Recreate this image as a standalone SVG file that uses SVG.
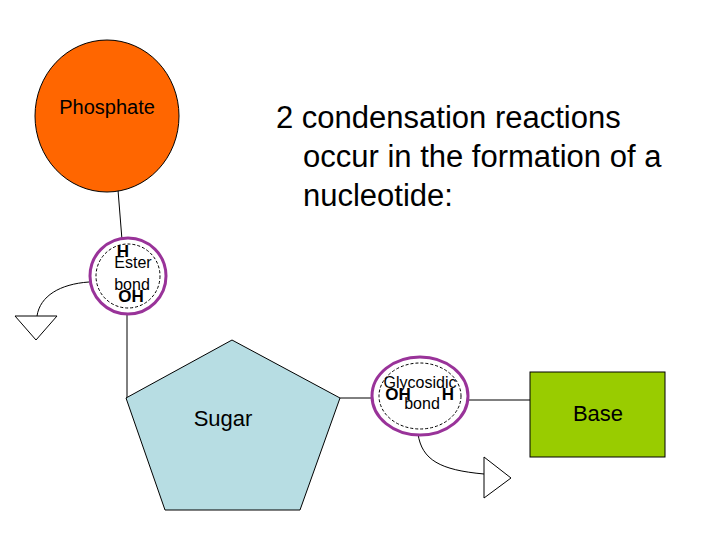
<svg xmlns="http://www.w3.org/2000/svg" width="720" height="540" viewBox="0 0 720 540">
<style>
.t{font-family:"Liberation Sans",Arial,sans-serif;fill:#000}
.ln{stroke:#000;stroke-width:1;fill:none}
.bond{fill:#fff;stroke:#993399;stroke-width:3}
.dash{fill:none;stroke:#000;stroke-width:1;stroke-dasharray:3,2}
.tri{fill:#fff;stroke:#000;stroke-width:1}
</style>
<rect width="720" height="540" fill="#fff"/>
<g id="connectors">
<line class="ln" x1="118" y1="190" x2="122" y2="240"/>
<polyline class="ln" points="127,313 127,398 126,398"/>
<line class="ln" x1="340" y1="398" x2="372" y2="398"/>
<line class="ln" x1="468" y1="400" x2="530" y2="400"/>
<path class="ln" d="M89,282 C60,284 40,296 37,316"/>
<path class="ln" d="M418,434 C422,460 440,470 484,474"/>
</g>
<g id="phosphate">
<ellipse cx="107" cy="116" rx="72" ry="76" fill="#ff6600" stroke="#000"/>
<text class="t" x="107" y="114" font-size="20" text-anchor="middle">Phosphate</text>
</g>
<g id="title">
<text class="t" font-size="31"><tspan x="276" y="128">2 condensation reactions</tspan><tspan x="303" y="167">occur in the formation of a</tspan><tspan x="303" y="206">nucleotide:</tspan></text>
</g>
<g id="ester">
<circle class="bond" cx="128" cy="276" r="38"/>
<circle class="dash" cx="128" cy="276" r="32"/>
<text class="t" x="123" y="257" font-size="17" font-weight="bold" text-anchor="middle">H</text>
<text class="t" x="133" y="268" font-size="16" text-anchor="middle">Ester</text>
<text class="t" x="132" y="290" font-size="16" text-anchor="middle">bond</text>
<text class="t" x="131" y="302" font-size="17" font-weight="bold" text-anchor="middle">OH</text>
</g>
<g id="leftTriangle"><polygon class="tri" points="15,316 57,316 36,340"/></g>
<g id="sugar">
<polygon points="232,340 340,398 300,510 165,510 126,398" fill="#b7dde3" stroke="#000"/>
<text class="t" x="223" y="426" font-size="22" text-anchor="middle">Sugar</text>
</g>
<g id="glycosidic">
<ellipse class="bond" cx="420" cy="396" rx="48" ry="39"/>
<ellipse class="dash" cx="420" cy="396" rx="41" ry="33"/>
<text class="t" x="420" y="388" font-size="16" text-anchor="middle">Glycosidic</text>
<text class="t" x="398" y="400" font-size="17" font-weight="bold" text-anchor="middle">OH</text>
<text class="t" x="448" y="400" font-size="17" font-weight="bold" text-anchor="middle">H</text>
<text class="t" x="422" y="409" font-size="16" text-anchor="middle">bond</text>
</g>
<g id="rightTriangle"><polygon class="tri" points="484,457 484,498 511,478"/></g>
<g id="base">
<rect x="530" y="372" width="135" height="85" fill="#99cc00" stroke="#000"/>
<text class="t" x="598" y="421" font-size="22" text-anchor="middle">Base</text>
</g>
</svg>
